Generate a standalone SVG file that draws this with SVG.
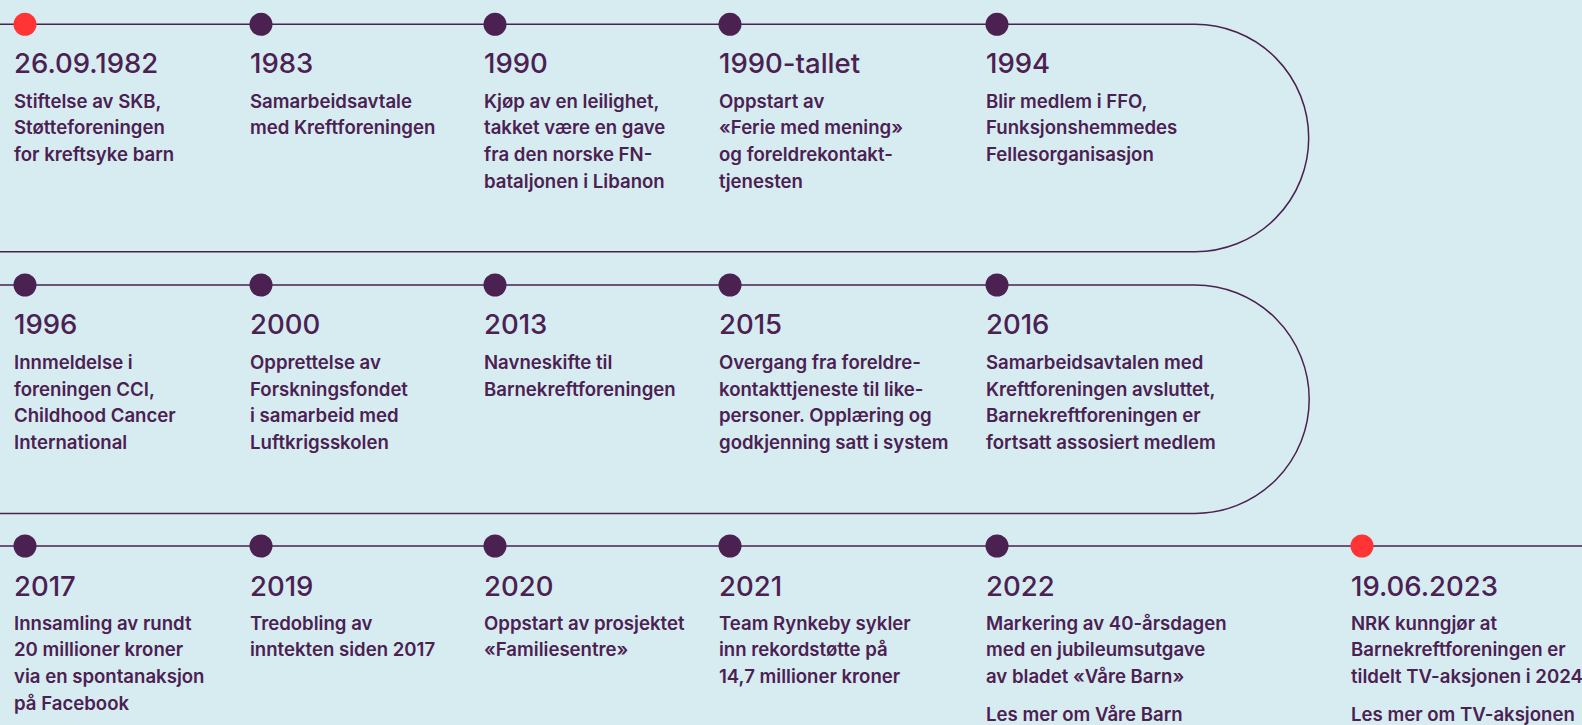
<svg xmlns="http://www.w3.org/2000/svg" width="1582" height="725" viewBox="0 0 1582 725">
  <style>
    .bg { fill: #d7ecf1; }
    .track { fill: none; stroke: #4b2151; stroke-width: 1.5; }
    .dot { fill: #4b2151; }
    .dot.hi { fill: #ff3535; }
    .yr { font-family: Inter, "Liberation Sans", sans-serif; font-size: 27.5px; font-weight: 500; fill: #4b2151; }
    .tx { font-family: Inter, "Liberation Sans", sans-serif; font-size: 18.6px; font-weight: 600; fill: #4b2151; }
  </style>
  <rect class="bg" x="0" y="0" width="1582" height="725"/>

  <!-- timeline track: two loops and a straight last row -->
  <g id="connectors">
    <path class="track" d="M0,24.3 H1195 A113.7,113.7 0 0 1 1195,251.7 H0"/>
    <path class="track" d="M0,285 H1195 A114.2,114.2 0 0 1 1195,513.4 H0"/>
    <path class="track" d="M0,546 H1582"/>
  </g>

  <!-- row 1 -->
  <g id="e1982">
    <circle class="dot hi" cx="25" cy="24.3" r="11.5"/>
    <text class="yr" x="14" y="73.3">26.09.1982</text>
    <text class="tx" x="14" y="107.8"><tspan x="14">Stiftelse av SKB,</tspan><tspan x="14" dy="26.67">Støtteforeningen</tspan><tspan x="14" dy="26.67">for kreftsyke barn</tspan></text>
  </g>
  <g id="e1983">
    <circle class="dot" cx="261" cy="24.3" r="11.5"/>
    <text class="yr" x="250" y="73.3">1983</text>
    <text class="tx" x="250" y="107.8"><tspan x="250">Samarbeidsavtale</tspan><tspan x="250" dy="26.67">med Kreftforeningen</tspan></text>
  </g>
  <g id="e1990">
    <circle class="dot" cx="495" cy="24.3" r="11.5"/>
    <text class="yr" x="484" y="73.3">1990</text>
    <text class="tx" x="484" y="107.8"><tspan x="484">Kjøp av en leilighet,</tspan><tspan x="484" dy="26.67">takket være en gave</tspan><tspan x="484" dy="26.67">fra den norske FN-</tspan><tspan x="484" dy="26.67">bataljonen i Libanon</tspan></text>
  </g>
  <g id="e1990s">
    <circle class="dot" cx="730" cy="24.3" r="11.5"/>
    <text class="yr" x="719" y="73.3">1990-tallet</text>
    <text class="tx" x="719" y="107.8"><tspan x="719">Oppstart av</tspan><tspan x="719" dy="26.67">«Ferie med mening»</tspan><tspan x="719" dy="26.67">og foreldrekontakt-</tspan><tspan x="719" dy="26.67">tjenesten</tspan></text>
  </g>
  <g id="e1994">
    <circle class="dot" cx="997" cy="24.3" r="11.5"/>
    <text class="yr" x="986" y="73.3">1994</text>
    <text class="tx" x="986" y="107.8"><tspan x="986">Blir medlem i FFO,</tspan><tspan x="986" dy="26.67">Funksjonshemmedes</tspan><tspan x="986" dy="26.67">Fellesorganisasjon</tspan></text>
  </g>

  <!-- row 2 -->
  <g id="e1996">
    <circle class="dot" cx="25" cy="285" r="11.5"/>
    <text class="yr" x="14" y="334">1996</text>
    <text class="tx" x="14" y="369"><tspan x="14">Innmeldelse i</tspan><tspan x="14" dy="26.67">foreningen CCI,</tspan><tspan x="14" dy="26.67">Childhood Cancer</tspan><tspan x="14" dy="26.67">International</tspan></text>
  </g>
  <g id="e2000">
    <circle class="dot" cx="261" cy="285" r="11.5"/>
    <text class="yr" x="250" y="334">2000</text>
    <text class="tx" x="250" y="369"><tspan x="250">Opprettelse av</tspan><tspan x="250" dy="26.67">Forskningsfondet</tspan><tspan x="250" dy="26.67">i samarbeid med</tspan><tspan x="250" dy="26.67">Luftkrigsskolen</tspan></text>
  </g>
  <g id="e2013">
    <circle class="dot" cx="495" cy="285" r="11.5"/>
    <text class="yr" x="484" y="334">2013</text>
    <text class="tx" x="484" y="369"><tspan x="484">Navneskifte til</tspan><tspan x="484" dy="26.67">Barnekreftforeningen</tspan></text>
  </g>
  <g id="e2015">
    <circle class="dot" cx="730" cy="285" r="11.5"/>
    <text class="yr" x="719" y="334">2015</text>
    <text class="tx" x="719" y="369"><tspan x="719">Overgang fra foreldre-</tspan><tspan x="719" dy="26.67">kontakttjeneste til like-</tspan><tspan x="719" dy="26.67">personer. Opplæring og</tspan><tspan x="719" dy="26.67">godkjenning satt i system</tspan></text>
  </g>
  <g id="e2016">
    <circle class="dot" cx="997" cy="285" r="11.5"/>
    <text class="yr" x="986" y="334">2016</text>
    <text class="tx" x="986" y="369"><tspan x="986">Samarbeidsavtalen med</tspan><tspan x="986" dy="26.67">Kreftforeningen avsluttet,</tspan><tspan x="986" dy="26.67">Barnekreftforeningen er</tspan><tspan x="986" dy="26.67">fortsatt assosiert medlem</tspan></text>
  </g>

  <!-- row 3 -->
  <g id="e2017">
    <circle class="dot" cx="25" cy="546" r="11.5"/>
    <text class="yr" x="14" y="595.5">2017</text>
    <text class="tx" x="14" y="629.7"><tspan x="14">Innsamling av rundt</tspan><tspan x="14" dy="26.67">20 millioner kroner</tspan><tspan x="14" dy="26.67">via en spontanaksjon</tspan><tspan x="14" dy="26.67">på Facebook</tspan></text>
  </g>
  <g id="e2019">
    <circle class="dot" cx="261" cy="546" r="11.5"/>
    <text class="yr" x="250" y="595.5">2019</text>
    <text class="tx" x="250" y="629.7"><tspan x="250">Tredobling av</tspan><tspan x="250" dy="26.67">inntekten siden 2017</tspan></text>
  </g>
  <g id="e2020">
    <circle class="dot" cx="495" cy="546" r="11.5"/>
    <text class="yr" x="484" y="595.5">2020</text>
    <text class="tx" x="484" y="629.7"><tspan x="484">Oppstart av prosjektet</tspan><tspan x="484" dy="26.67">«Familiesentre»</tspan></text>
  </g>
  <g id="e2021">
    <circle class="dot" cx="730" cy="546" r="11.5"/>
    <text class="yr" x="719" y="595.5">2021</text>
    <text class="tx" x="719" y="629.7"><tspan x="719">Team Rynkeby sykler</tspan><tspan x="719" dy="26.67">inn rekordstøtte på</tspan><tspan x="719" dy="26.67">14,7 millioner kroner</tspan></text>
  </g>
  <g id="e2022">
    <circle class="dot" cx="997" cy="546" r="11.5"/>
    <text class="yr" x="986" y="595.5">2022</text>
    <text class="tx" x="986" y="629.7"><tspan x="986">Markering av 40-årsdagen</tspan><tspan x="986" dy="26.67">med en jubileumsutgave</tspan><tspan x="986" dy="26.67">av bladet «Våre Barn»</tspan></text>
    <text class="tx" x="986" y="721">Les mer om Våre Barn</text>
  </g>
  <g id="e2023">
    <circle class="dot hi" cx="1362" cy="546" r="11.5"/>
    <text class="yr" x="1351" y="595.5">19.06.2023</text>
    <text class="tx" x="1351" y="629.7"><tspan x="1351">NRK kunngjør at</tspan><tspan x="1351" dy="26.67">Barnekreftforeningen er</tspan><tspan x="1351" dy="26.67">tildelt TV-aksjonen i 2024</tspan></text>
    <text class="tx" x="1351" y="721">Les mer om TV-aksjonen</text>
  </g>
</svg>
